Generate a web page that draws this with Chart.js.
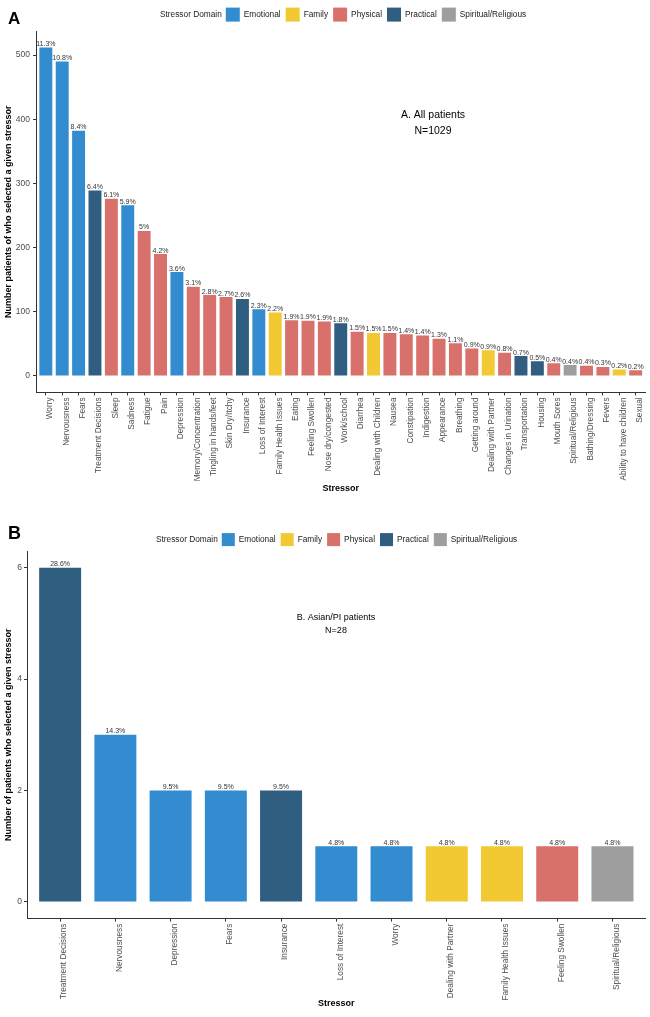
<!DOCTYPE html>
<html><head><meta charset="utf-8">
<script src="https://cdn.jsdelivr.net/npm/chart.js@4.4.0/dist/chart.umd.min.js"></script>
<style>
html,body{margin:0;padding:0;background:#fff;}
#wrap{position:relative;width:650px;height:1017px;overflow:hidden;}
#cA{position:absolute;left:0;top:0;}
#cB{position:absolute;left:0;top:500px;}
</style></head><body>
<div id="wrap">
<canvas id="cA" width="650" height="500"></canvas>
<canvas id="cB" width="650" height="517"></canvas>
</div>
<script>
// ---------- Panel A data ----------
const stressorsA = ["Worry","Nervousness","Fears","Treatment Decisions","Sleep","Sadness","Fatigue","Pain","Depression","Memory/Concentration","Tingling in hands/feet","Skin Dry/Itchy","Insurance","Loss of Interest","Family Health Issues","Eating","Feeling Swollen","Nose dry/congested","Work/school","Diarrhea","Dealing with Children","Nausea","Constipation","Indigestion","Appearance","Breathing","Getting around","Dealing with Partner","Changes in Urination","Transportation","Housing","Mouth Sores","Spiritual/Religious","Bathing/Dressing","Fevers","Ability to have children","Sexual"];
const countsA = [512,490,382,289,276,266,226,190,162,139,126,123,120,104,99,87,86,85,82,69,67,67,65,63,58,51,43,40,36,31,23,20,17,16,14,10,9];
const percentA = [11.3,10.8,8.4,6.4,6.1,5.9,5,4.2,3.6,3.1,2.8,2.7,2.6,2.3,2.2,1.9,1.9,1.9,1.8,1.5,1.5,1.5,1.4,1.4,1.3,1.1,0.9,0.9,0.8,0.7,0.5,0.4,0.4,0.4,0.3,0.2,0.2];
const domainsA = ["Emotional","Emotional","Emotional","Practical","Physical","Emotional","Physical","Physical","Emotional","Physical","Physical","Physical","Practical","Emotional","Family","Physical","Physical","Physical","Practical","Physical","Family","Physical","Physical","Physical","Physical","Physical","Physical","Family","Physical","Practical","Practical","Physical","Spiritual/Religious","Physical","Physical","Family","Physical"];
const yTicksA = [0,100,200,300,400,500];
const annoA = ["A. All patients","N=1029"];

// ---------- Panel B data ----------
const stressorsB = ["Treatment Decisions","Nervousness","Depression","Fears","Insurance","Loss of Interest","Worry","Dealing with Partner","Family Health Issues","Feeling Swollen","Spiritual/Religious"];
const countsB = [6,3,2,2,2,1,1,1,1,1,1];
const percentB = [28.6,14.3,9.5,9.5,9.5,4.8,4.8,4.8,4.8,4.8,4.8];
const domainsB = ["Practical","Emotional","Emotional","Emotional","Practical","Emotional","Emotional","Family","Family","Physical","Spiritual/Religious"];
const yTicksB = [0,2,4,6];
const annoB = ["B. Asian/PI patients","N=28"];

const legendDomains = ["Emotional","Family","Physical","Practical","Spiritual/Religious"];
const domainColors = {"Emotional":"#328CCF","Family":"#F2C932","Physical":"#D8706C","Practical":"#2F5E80","Spiritual/Religious":"#9E9E9E"};

const FONT = '"Liberation Sans", Arial, Helvetica, sans-serif';

function overlay(cfg){
  return {
    id:'overlay',
    afterDatasetsDraw(chart){
      const ctx = chart.ctx, meta = chart.getDatasetMeta(0);
      ctx.save();
      ctx.font = cfg.labelSize + 'px ' + FONT;
      ctx.fillStyle = '#333';
      ctx.textAlign = 'center';
      ctx.textBaseline = 'alphabetic';
      meta.data.forEach((bar,i)=>{ ctx.fillText(cfg.pct[i] + '%', bar.x, bar.y - cfg.labelGap); });
      ctx.restore();
    },
    afterDraw(chart){
      const ctx = chart.ctx;
      ctx.save();
      ctx.fillStyle = '#000';
      ctx.textAlign = 'left';
      ctx.textBaseline = 'middle';
      ctx.font = 'bold ' + cfg.letterSize + 'px ' + FONT;
      ctx.fillText(cfg.letter, cfg.letterX, cfg.letterY);
      ctx.font = cfg.legendSize + 'px ' + FONT;
      let x = cfg.legendX; const y = cfg.legendY;
      ctx.fillStyle = '#1a1a1a';
      ctx.fillText('Stressor Domain', x, y);
      x += ctx.measureText('Stressor Domain').width + 4;
      legendDomains.forEach(d=>{
        ctx.fillStyle = domainColors[d];
        ctx.fillRect(x, y - cfg.box/2, cfg.box, cfg.box);
        x += cfg.box + 4;
        ctx.fillStyle = '#1a1a1a';
        ctx.fillText(d, x, y);
        x += ctx.measureText(d).width + 5;
      });
      ctx.textAlign = 'center';
      ctx.fillStyle = '#000';
      ctx.font = cfg.annoSize + 'px ' + FONT;
      cfg.anno.forEach((t,i)=>ctx.fillText(t, cfg.annoX, cfg.annoY + i*cfg.annoLine));
      ctx.restore();
    }
  };
}

function makeChart(id, cats, counts, doms, yTicks, ymin, ymax, opts, plug){
  return new Chart(document.getElementById(id), {
    type:'bar',
    data:{ datasets:[{
      data: counts.map((v,i)=>({x:i, y:v})),
      backgroundColor: doms.map(d=>domainColors[d]),
      borderWidth:0,
      barPercentage: opts.barPct,
      categoryPercentage: 1
    }]},
    options:{
      responsive:false, animation:false,
      layout:{padding:{left:0, right:opts.padRight, top:opts.padTop, bottom:0}},
      plugins:{legend:{display:false}, tooltip:{enabled:false}},
      scales:{
        x:{
          type:'linear', offset:false, min:-0.6, max:cats.length - 0.4,
          afterBuildTicks:s=>{ s.ticks = cats.map((_,i)=>({value:i})); },
          afterFit:s=>{ s.height = opts.xHeight; },
          ticks:{autoSkip:false, minRotation:90, maxRotation:90, padding:2, labelOffset:4, color:'#4d4d4d',
                 font:{family:FONT, size:8.3}, callback:v=>cats[v]},
          grid:{display:true, offset:false, drawOnChartArea:false, drawTicks:true, tickLength:3, color:'#333'},
          border:{display:true, color:'#333', width:1},
          title:{display:true, text:'Stressor', color:'#000',
                 font:{family:FONT, size:9, weight:'bold'}, padding:{top:0, bottom:opts.xTitlePad}}
        },
        y:{
          min:ymin, max:ymax,
          afterBuildTicks:s=>{ s.ticks = yTicks.map(v=>({value:v})); },
          afterFit:s=>{ s.width = opts.yWidth; },
          ticks:{color:'#4d4d4d', font:{family:FONT, size:8.5}, padding:opts.yTickPad},
          grid:{display:true, drawOnChartArea:false, drawTicks:true, tickLength:3, color:'#333'},
          border:{display:true, color:'#333', width:1},
          title:{display:true, text:opts.yTitle, color:'#000',
                 font:{family:FONT, size:9, weight:'bold'}, padding:{top:3, bottom:0}}
        }
      }
    },
    plugins:[plug]
  });
}

makeChart('cA', stressorsA, countsA, domainsA, yTicksA, -25.6, 537.6,
  {barPct:0.79, padRight:4.5, padTop:31, xHeight:107.6, xTitlePad:5.6, yWidth:36, yTickPad:3,
   yTitle:'Number patients of who selected a given stressor'},
  overlay({pct:percentA, labelSize:7, labelGap:1.5, letter:'A', letterSize:17, letterX:8, letterY:19,
           legendX:160, legendY:14.6, legendSize:8.3, box:14,
           anno:annoA, annoX:433, annoY:115, annoLine:16, annoSize:10.5}));

makeChart('cB', stressorsB, countsB, domainsB, yTicksB, -0.3, 6.3,
  {barPct:0.76, padRight:4.4, padTop:51, xHeight:98.4, xTitlePad:7.6, yWidth:27, yTickPad:2,
   yTitle:'Number of patients who selected a given stressor'},
  overlay({pct:percentB, labelSize:7, labelGap:1.5, letter:'B', letterSize:18, letterX:8, letterY:34,
           legendX:156, legendY:39.6, legendSize:8.3, box:13,
           anno:annoB, annoX:336, annoY:117.3, annoLine:13.3, annoSize:9}));
</script>
</body></html>
